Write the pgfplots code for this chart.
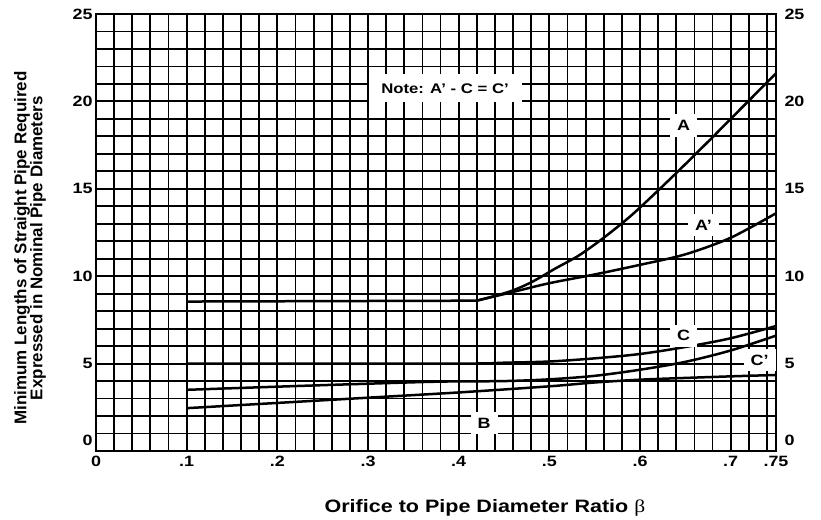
\documentclass[border=0pt]{standalone}
\usepackage{fontspec}
\setmainfont{Liberation Sans}[FakeStretch=1.2]
\newfontfamily\ylabfont{Liberation Sans}
\newfontfamily\grkfont{Liberation Serif}[FakeStretch=1.2]
\usepackage{pgfplots}
\pgfplotsset{compat=1.18}

% digitised curves (beta, pipe diameters)
\pgfplotstableread{
x y
0.10 8.55
0.42 8.60
}\flatA
\pgfplotstableread{
x y
0.42 8.60
0.455 9.10
0.48 9.65
0.507 10.45
0.533 11.20
0.56 12.20
0.592 13.55
0.636 15.70
0.681 18.00
0.70 19.00
0.75 21.60
}\curveA
\pgfplotstableread{
x y
0.42 8.60
0.46 9.10
0.50 9.60
0.55 10.10
0.60 10.65
0.65 11.25
0.70 12.20
0.75 13.60
}\curveAp
\pgfplotstableread{
x y
0.10 5.00
0.40 5.00
0.45 5.05
0.50 5.12
0.55 5.30
0.60 5.55
0.65 5.95
0.70 6.45
0.75 7.15
}\curveC
\pgfplotstableread{
x y
0.10 3.50
0.20 3.68
0.30 3.85
0.38 3.97
0.45 4.00
0.50 4.10
0.55 4.30
0.60 4.65
0.65 5.10
0.70 5.75
0.75 6.60
}\curveCp
\pgfplotstableread{
x y
0.10 2.45
0.20 2.75
0.30 3.05
0.40 3.35
0.50 3.70
0.55 3.92
0.60 4.08
0.65 4.18
0.70 4.27
0.75 4.35
}\curveB

\begin{document}
\begin{tikzpicture}
\path[use as bounding box] (-96bp,-69bp) rectangle (725bp,451bp);
\begin{axis}[
  at={(0,0)}, anchor=south west,
  scale only axis,
  width=680bp, height=437bp,
  xmin=0, xmax=0.75, ymin=0, ymax=25,
  xtick={0,0.1,0.2,0.3,0.4,0.5,0.6,0.7,0.75},
  xticklabels={0,.1,.2,.3,.4,.5,.6,.7,.75},
  ytick={0.6,5,10,15,20,25},
  yticklabels={0,5,10,15,20,25},
  minor xtick={0.02,0.04,0.06,0.08,0.10,0.12,0.14,0.16,0.18,0.20,
    0.22,0.24,0.26,0.28,0.30,0.32,0.34,0.36,0.38,0.40,
    0.42,0.44,0.46,0.48,0.50,0.52,0.54,0.56,0.58,0.60,
    0.62,0.64,0.66,0.68,0.70,0.72,0.74},
  minor ytick={1,2,3,4,5,6,7,8,9,10,11,12,13,14,15,16,17,18,19,20,21,22,23,24},
  grid=minor,
  minor grid style={black, line width=1.8bp},
  major tick length=0pt, minor tick length=0pt,
  axis line style={black, line width=1.9bp},
  ticklabel style={font=\bfseries\fontsize{15}{15}\selectfont},
  xticklabel style={yshift=-2bp},
  xlabel={Orifice to Pipe Diameter Ratio {\grkfont\mdseries β}},
  xlabel style={at={(axis description cs:0.572,-0.130)}, anchor=center,
    font=\bfseries\fontsize{18}{18}\selectfont},
  ylabel={Minimum Lengths of Straight Pipe Required\\Expressed in Nominal Pipe Diameters},
  ylabel style={at={(axis description cs:-0.097,0.4645)}, anchor=center, rotate=0,
    align=center, font=\ylabfont\bfseries\fontsize{17}{16}\selectfont},
]
\addplot[black, line width=2.5bp] table {\flatA};
\addplot[black, line width=2.5bp, smooth, tension=0.5] table {\curveA};
\addplot[black, line width=2.5bp, smooth, tension=0.5] table {\curveAp};
\addplot[black, line width=2.5bp, smooth, tension=0.5] table {\curveC};
\addplot[black, line width=2.5bp, smooth, tension=0.5] table {\curveCp};
\addplot[black, line width=2.5bp, smooth, tension=0.5] table {\curveB};

\node[fill=white, minimum width=153bp, minimum height=28bp, font=\bfseries\fontsize{14}{14}\selectfont]
  at (axis cs:0.385,20.75) {Note: A’ - C = C’};
\tikzset{lbl/.style={fill=white, inner xsep=7bp, inner ysep=6bp, font=\bfseries\fontsize{15}{15}\selectfont}}
\node[lbl] at (axis cs:0.648,18.62) {A};
\node[lbl] at (axis cs:0.670,12.92) {A’};
\node[lbl] at (axis cs:0.648,6.59) {C};
\node[lbl] at (axis cs:0.732,5.21) {C’};
\node[lbl] at (axis cs:0.428,1.6) {B};
\end{axis}
\begin{axis}[
  at={(0,0)}, anchor=south west,
  scale only axis,
  width=680bp, height=437bp,
  xmin=0, xmax=0.75, ymin=0, ymax=25,
  xtick=\empty,
  ytick={0.6,5,10,15,20,25},
  yticklabels={0,5,10,15,20,25},
  yticklabel pos=right,
  major tick length=0pt,
  axis line style={draw=none},
  ticklabel style={font=\bfseries\fontsize{15}{15}\selectfont},
  yticklabel style={xshift=5bp},
]
\end{axis}
\end{tikzpicture}
\end{document}
